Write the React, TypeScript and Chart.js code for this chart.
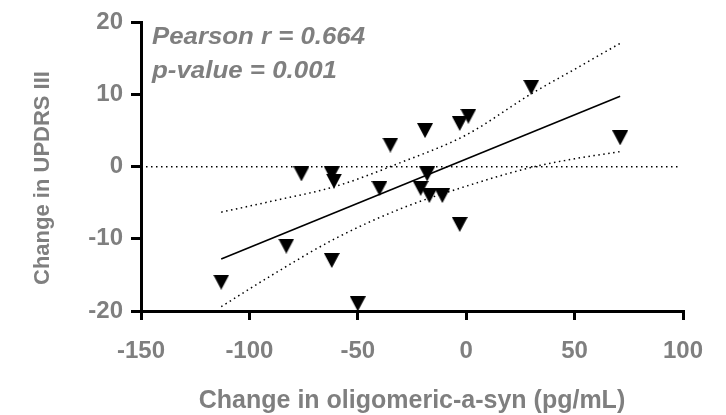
import React, { useEffect, useRef } from 'react';
import { Chart, registerables } from 'chart.js';

Chart.register(...registerables);

// Data
const deltaOligo = [-113, -83, -76, -62, -61, -62, -50, -40, -35, -19, -18, -21, -17, -11, -3, 1, -3, 30, 71];
const deltaUpdrs = [-16, -11, -1, -1, -2, -13, -19, -3, 3, 5, -1, -3, -4, -4, 6, 7, -8, 11, 4];

const fitX = [-113, 71];
const fitY = [-12.8, 9.75];

const bandX = [-113, -90, -60, -30, 0, 30, 50, 71];
const bandUpper = [-6.3, -4.8, -2.7, 0.6, 4.4, 10.1, 13.5, 17.1];
const bandLower = [-19.4, -15.1, -9.9, -5.8, -2.7, -0.1, 1.1, 2.1];

const zeroX = [-150, 98];
const zeroY = [0, 0];

const xTicks = [-150, -100, -50, 0, 50, 100];
const yTicks = [-20, -10, 0, 10, 20];

const statLines = ['Pearson r = 0.664', 'p-value = 0.001'];
const xTitle = 'Change in oligomeric-a-syn (pg/mL)';
const yTitle = 'Change in UPDRS III';

const GRAY = '#7f7f7f';
const FONT_FAMILY = '"Liberation Sans", Arial, Helvetica, sans-serif';

const toPoints = (xs: number[], ys: number[]) => xs.map((x, i) => ({ x, y: ys[i] }));

const textPlugin = {
  id: 'refTexts',
  afterDraw(chart: any) {
    const ctx = chart.ctx as CanvasRenderingContext2D;
    const ca = chart.chartArea;
    ctx.save();
    ctx.fillStyle = GRAY;
    ctx.textBaseline = 'alphabetic';

    // x title
    ctx.font = `bold 25px ${FONT_FAMILY}`;
    ctx.textAlign = 'center';
    ctx.fillText(xTitle, (ca.left + ca.right) / 2, 408);

    // y title
    ctx.save();
    ctx.translate(49, 178);
    ctx.rotate(-Math.PI / 2);
    ctx.font = `bold 22px ${FONT_FAMILY}`;
    ctx.textAlign = 'center';
    ctx.fillText(yTitle, 0, 0);
    ctx.restore();

    // stats annotation
    ctx.font = `italic bold 24px ${FONT_FAMILY}`;
    ctx.textAlign = 'left';
    const targets = [213, 185];
    const baselines = [44, 78];
    statLines.forEach((t, i) => {
      const w = ctx.measureText(t).width;
      const sx = targets[i] / w;
      ctx.save();
      ctx.translate(152, baselines[i]);
      ctx.scale(sx, 1);
      ctx.fillText(t, 0, 0);
      ctx.restore();
    });
    ctx.restore();
  },
};

export default function App() {
  const ref = useRef<HTMLCanvasElement | null>(null);

  useEffect(() => {
    const canvas = ref.current;
    if (!canvas) return;

    const tri = document.createElement('canvas');
    tri.width = 16;
    tri.height = 15;
    const tc = tri.getContext('2d')!;
    tc.fillStyle = '#000';
    tc.beginPath();
    tc.moveTo(0, 0);
    tc.lineTo(16, 0);
    tc.lineTo(8, 15);
    tc.closePath();
    tc.fill();

    const dotted = [1.5, 3.5];

    const chart = new Chart(canvas, {
      type: 'scatter',
      data: {
        datasets: [
          {
            label: 'data',
            data: toPoints(deltaOligo, deltaUpdrs),
            pointStyle: tri as any,
            pointRadius: 8,
            backgroundColor: '#000',
            borderColor: '#000',
            clip: false as any,
          },
          {
            label: 'fit',
            data: toPoints(fitX, fitY),
            showLine: true,
            pointRadius: 0,
            borderColor: '#000',
            borderWidth: 1.6,
          },
          {
            label: 'upper',
            data: toPoints(bandX, bandUpper),
            showLine: true,
            pointRadius: 0,
            borderColor: '#000',
            borderWidth: 1.5,
            borderDash: dotted,
            cubicInterpolationMode: 'monotone',
          },
          {
            label: 'lower',
            data: toPoints(bandX, bandLower),
            showLine: true,
            pointRadius: 0,
            borderColor: '#000',
            borderWidth: 1.5,
            borderDash: dotted,
            cubicInterpolationMode: 'monotone',
          },
          {
            label: 'zero',
            data: toPoints(zeroX, zeroY),
            showLine: true,
            pointRadius: 0,
            borderColor: '#000',
            borderWidth: 1.5,
            borderDash: dotted,
          },
        ],
      },
      options: {
        responsive: false,
        devicePixelRatio: 1,
        animation: false,
        layout: { padding: { top: 22, right: 43, left: 0, bottom: 0 } },
        plugins: { legend: { display: false }, tooltip: { enabled: false } },
        scales: {
          x: {
            type: 'linear',
            min: -150,
            max: 100,
            afterBuildTicks: (s: any) => {
              s.ticks = xTicks.map((v) => ({ value: v }));
            },
            afterFit: (s: any) => {
              s.height = 104;
            },
            grid: {
              drawOnChartArea: false,
              drawTicks: true,
              tickLength: 9,
              tickWidth: 3,
              tickColor: '#000',
              lineWidth: 3,
              color: '#000',
            },
            border: { display: true, width: 3, color: '#000' },
            ticks: {
              color: GRAY,
              padding: 17,
              maxRotation: 0,
              font: { family: FONT_FAMILY, size: 24, weight: 'bold' },
            },
          },
          y: {
            type: 'linear',
            min: -20,
            max: 20,
            afterBuildTicks: (s: any) => {
              s.ticks = yTicks.map((v) => ({ value: v }));
            },
            afterFit: (s: any) => {
              s.width = 141;
            },
            grid: {
              drawOnChartArea: false,
              drawTicks: true,
              tickLength: 10,
              tickWidth: 3,
              tickColor: '#000',
              lineWidth: 3,
              color: '#000',
            },
            border: { display: true, width: 3, color: '#000' },
            ticks: {
              color: GRAY,
              padding: 8,
              font: { family: FONT_FAMILY, size: 24, weight: 'bold' },
            },
          },
        },
      },
      plugins: [textPlugin],
    } as any);

    return () => chart.destroy();
  }, []);

  return (
    <div style={{ position: 'fixed', left: 0, top: 0, width: 726, height: 415, background: '#fff' }}>
      <canvas ref={ref} width={726} height={415} style={{ width: 726, height: 415 }} />
    </div>
  );
}
